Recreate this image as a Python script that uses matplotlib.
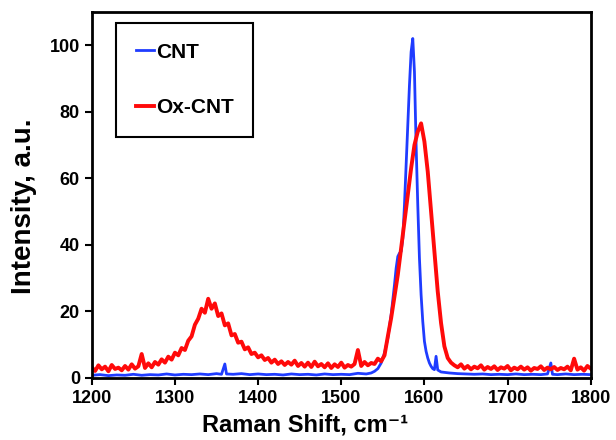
import matplotlib
matplotlib.use("Agg")
import matplotlib.pyplot as plt
import numpy as np

# CNT spectrum
cnt_shift = [1200, 1210, 1220, 1230, 1240, 1250, 1260, 1270, 1280, 1290,
             1300, 1310, 1320, 1330, 1340, 1350, 1356, 1360, 1362, 1370,
             1380, 1390, 1400, 1410, 1420, 1430, 1440, 1450, 1460, 1470,
             1480, 1490, 1500, 1510, 1520, 1530, 1536, 1540, 1544, 1548,
             1552, 1556, 1560, 1564, 1566, 1568, 1570, 1572, 1574, 1576,
             1578, 1580, 1582, 1584, 1586, 1588, 1590, 1592, 1594, 1596,
             1598, 1600, 1602, 1604, 1606, 1608, 1610, 1612, 1614, 1616,
             1620, 1630, 1640, 1650, 1660, 1670, 1680, 1690, 1700, 1710,
             1720, 1730, 1740, 1748, 1752, 1754, 1760, 1770, 1780, 1790, 1800]
cnt_intensity = [0.8, 1.0, 0.7, 0.9, 0.8, 1.1, 0.8, 1.0, 0.9, 1.2,
                 0.9, 1.1, 1.0, 1.2, 1.0, 1.3, 1.1, 4.2, 1.2, 1.1,
                 1.3, 1.0, 1.2, 1.0, 1.1, 0.9, 1.2, 1.0, 1.1, 0.9,
                 1.2, 1.0, 1.1, 1.0, 1.4, 1.2, 1.5, 2.0, 2.8, 4.5,
                 7.5, 12.0, 19.0, 28.0, 33.0, 36.5, 37.5, 38.0, 42.0, 52.0,
                 64.0, 76.0, 88.0, 98.0, 102.0, 92.0, 70.0, 52.0, 36.0, 25.0,
                 17.0, 11.0, 8.0, 6.0, 4.5, 3.5, 2.8, 2.5, 6.5, 2.4,
                 1.8, 1.5, 1.3, 1.2, 1.1, 1.2, 1.0, 1.1, 1.0, 1.2,
                 1.0, 1.1, 1.0, 1.2, 4.5, 1.1, 1.0, 1.2, 1.0, 1.1, 1.0]

# Ox-CNT spectrum, every 4 cm-1 from 1200 to 1800
ox_shift = list(range(1200, 1801, 4))
ox_intensity = [
    3.2, 2.1, 3.8, 2.6, 3.4, 2.0, 3.9, 2.7, 3.1, 2.3,
    3.6, 2.5, 4.1, 2.8, 3.5, 7.2, 3.0, 4.4, 3.2, 4.8,
    4.0, 5.6, 4.6, 6.4, 5.5, 7.6, 6.8, 9.0, 8.4, 11.2,
    12.5, 16.0, 17.8, 20.8, 19.6, 23.8, 20.8, 22.4, 18.6, 19.4,
    15.8, 16.4, 12.8, 13.2, 10.6, 10.9, 8.6, 9.2, 7.2, 7.6,
    6.2, 6.8, 5.4, 6.0, 4.6, 5.5, 4.2, 5.0, 3.9, 4.8,
    4.0, 5.2, 3.6, 4.5, 3.4, 4.6, 3.3, 4.9, 3.5, 4.2,
    3.2, 4.4, 3.0, 4.1, 3.3, 4.6, 3.1, 3.9, 3.4, 4.2,
    8.4, 3.6, 4.8, 3.8, 4.5, 4.2, 5.8, 5.0, 6.8, 12.5,
    18.0, 24.5, 31.0, 39.0, 47.0, 55.0, 63.0, 70.0, 74.0, 76.5,
    71.0, 62.0, 50.0, 38.0, 26.0, 16.5, 9.5, 6.0, 4.6, 3.8,
    3.2, 4.1, 2.8, 3.6, 2.6, 3.4, 2.9, 3.8, 2.5, 3.3,
    2.7, 3.5, 2.4, 3.2, 2.8, 3.6, 2.3, 3.1, 2.6, 3.4,
    2.5, 3.2, 2.2, 3.0, 2.7, 3.5, 2.4, 3.1, 2.6, 3.3,
    2.4, 3.0, 2.6, 3.4, 2.3, 5.8, 2.5, 3.2, 2.2, 3.6,
    2.8]

x_ticks = [1200, 1300, 1400, 1500, 1600, 1700, 1800]
y_ticks = [0, 20, 40, 60, 80, 100]

plt.rcParams['font.family'] = ['Liberation Sans', 'DejaVu Sans']
plt.rcParams['font.weight'] = 'bold'

fig = plt.figure(figsize=(6.16, 4.4), dpi=100)
ax = fig.add_axes([0.149, 0.141, 0.810, 0.832])

ax.plot(cnt_shift, cnt_intensity, color='#1f3cff', lw=2.0, label='CNT')
ax.plot(ox_shift, ox_intensity, color='#ff0a0a', lw=2.8, label='Ox-CNT')

ax.set_xlim(1200, 1800)
ax.set_ylim(0, 110)
ax.set_xticks(x_ticks)
ax.set_yticks(y_ticks)
ax.tick_params(labelsize=13, width=1.5, length=5, direction='out')
for lbl in ax.get_xticklabels() + ax.get_yticklabels():
    lbl.set_fontweight('bold')
for s in ax.spines.values():
    s.set_linewidth(2)

ax.set_xlabel('Raman Shift, cm\u207b\u00b9', fontsize=17, fontweight='bold')
ax.set_ylabel('Intensity, a.u.', fontsize=20, fontweight='bold')
ax.xaxis.set_label_coords(0.427, -0.098)
ax.yaxis.set_label_coords(-0.110, 0.47)

leg = ax.legend(loc='upper left', bbox_to_anchor=(0.048, 0.97), borderaxespad=0,
                fontsize=15, handlelength=0.87, handletextpad=0.1, labelspacing=1.75,
                borderpad=0.95, fancybox=False, framealpha=1)
leg.get_frame().set_edgecolor('black')
leg.get_frame().set_linewidth(1.5)
for t in leg.get_texts():
    t.set_fontweight('bold')

fig.savefig('out.png', dpi=100)
